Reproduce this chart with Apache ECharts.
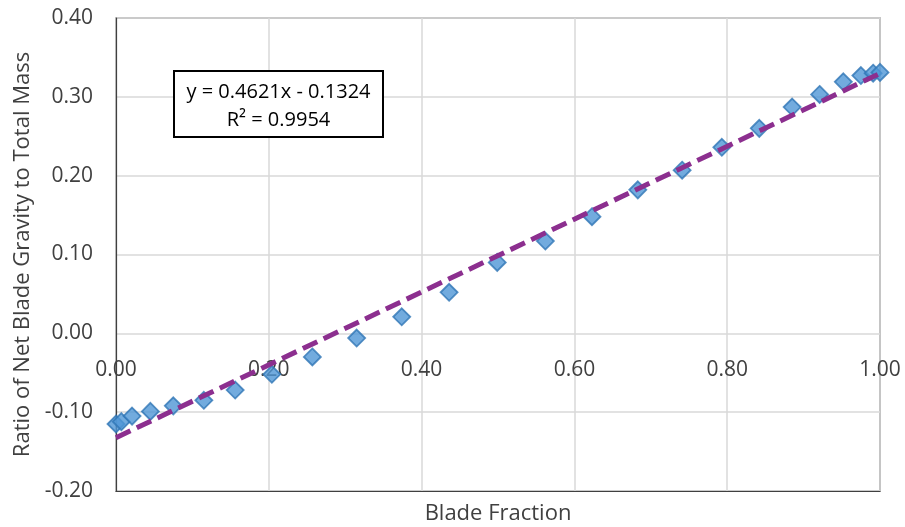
<!DOCTYPE html>
<html>
<head>
<meta charset="utf-8">
<script src="https://cdn.jsdelivr.net/npm/echarts@6/dist/echarts.min.js"></script>
<style>
  html, body { margin: 0; padding: 0; background: #fff; }
  #chart { width: 905px; height: 527px; }
</style>
</head>
<body>
<div id="chart"></div>
<script>
// Blade fraction vs. ratio of net blade gravity to total mass
const bladeFraction = [0.000, 0.007, 0.021, 0.045, 0.075, 0.115, 0.156, 0.204, 0.257, 0.315,
  0.374, 0.436, 0.499, 0.562, 0.623, 0.683, 0.741, 0.793, 0.842, 0.885,
  0.921, 0.952, 0.975, 0.991, 1.000];
const gravityRatio = [-0.115, -0.112, -0.105, -0.099, -0.092, -0.085, -0.072, -0.052, -0.030, -0.006,
  0.021, 0.052, 0.090, 0.117, 0.148, 0.182, 0.207, 0.236, 0.260, 0.287,
  0.303, 0.319, 0.327, 0.330, 0.331];

// Linear trendline coefficients
const trendSlope = 0.4621;
const trendIntercept = -0.1324;
const r2 = 0.9954;
const trendX = [0, 1];

const xTicks = { min: 0, max: 1, interval: 0.2 };
const yTicks = { min: -0.2, max: 0.4, interval: 0.1 };

const points = bladeFraction.map((x, i) => [x, gravityRatio[i]]);
const trend = trendX.map(x => [x, trendSlope * x + trendIntercept]);

const FONT = '"Open Sans", "Noto Sans", sans-serif';
const TXT = '#404040';
const GRID = '#d9d9d9';

const chart = echarts.init(document.getElementById('chart'));
chart.setOption({
  animation: false,
  backgroundColor: '#ffffff',
  grid: {
    left: 116, right: 25, top: 18, bottom: 36,
    containLabel: false,
    outerBoundsMode: 'none',
    show: true, borderColor: '#404040', borderWidth: 1.2
  },
  xAxis: {
    type: 'value',
    min: xTicks.min, max: xTicks.max, interval: xTicks.interval,
    name: 'Blade Fraction',
    nameLocation: 'middle',
    nameGap: 12,
    nameTextStyle: { fontFamily: FONT, fontSize: 22, color: TXT },
    axisLine: { show: true, onZero: false, lineStyle: { color: '#404040', width: 1.2 } },
    axisTick: { show: false },
    // tick labels sit along the zero line, inside the plot
    axisLabel: {
      fontFamily: FONT, fontSize: 21, color: TXT, margin: -131,
      formatter: v => v.toFixed(2)
    },
    splitLine: { show: true, lineStyle: { color: GRID, width: 1.5 } }
  },
  yAxis: {
    type: 'value',
    min: yTicks.min, max: yTicks.max, interval: yTicks.interval,
    name: 'Ratio of Net Blade Gravity to Total Mass',
    nameLocation: 'middle',
    nameGap: 82,
    nameTextStyle: { fontFamily: FONT, fontSize: 22, color: TXT },
    axisLine: { show: true, lineStyle: { color: '#404040', width: 1.2 } },
    axisTick: { show: false },
    axisLabel: {
      fontFamily: FONT, fontSize: 21, color: TXT, margin: 23,
      formatter: v => v.toFixed(2)
    },
    splitLine: { show: true, lineStyle: { color: GRID, width: 1.5 } }
  },
  series: [
    {
      type: 'scatter',
      data: points,
      symbol: 'diamond',
      symbolSize: 17,
      itemStyle: { color: '#4F96D6', borderColor: '#2F75B5', borderWidth: 1.8 },
      z: 2
    },
    {
      type: 'line',
      data: trend,
      showSymbol: false,
      symbol: 'none',
      lineStyle: { color: '#8C2F8F', width: 5, type: [16, 7] },
      z: 3
    }
  ],
  graphic: [
    {
      type: 'rect',
      shape: { x: 174, y: 71, width: 209, height: 66 },
      style: { fill: '#ffffff', stroke: '#000000', lineWidth: 2 },
      z: 10
    },
    {
      type: 'text',
      x: 278.5, y: 106,
      style: {
        text: 'y = ' + trendSlope.toFixed(4) + 'x - ' + Math.abs(trendIntercept).toFixed(4) +
              '\nR² = ' + r2.toFixed(4),
        fontFamily: FONT, fontSize: 20, fill: '#000000',
        align: 'center', verticalAlign: 'middle', lineHeight: 28
      },
      z: 11
    }
  ]
});
</script>
</body>
</html>
